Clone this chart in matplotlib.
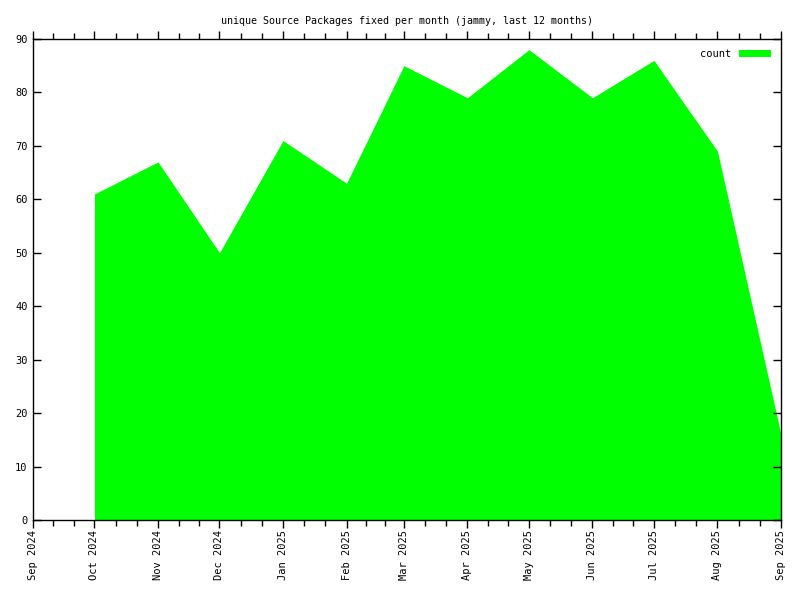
import datetime as dt
import matplotlib
matplotlib.use("Agg")
import matplotlib.pyplot as plt
import matplotlib.dates as mdates

months = ["2024-10", "2024-11", "2024-12", "2025-01", "2025-02", "2025-03",
          "2025-04", "2025-05", "2025-06", "2025-07", "2025-08", "2025-09"]
counts = [61, 67, 50, 71, 63, 85, 79, 88, 79, 86, 69, 16]
tick_months = ["2024-09", "2024-10", "2024-11", "2024-12", "2025-01", "2025-02", "2025-03",
               "2025-04", "2025-05", "2025-06", "2025-07", "2025-08", "2025-09"]

plt.rcParams['font.family'] = ['DejaVu Sans Mono']
plt.rcParams['font.size'] = 7.5

dates = [dt.datetime.strptime(m, "%Y-%m") for m in months]
tdates = [dt.datetime.strptime(m, "%Y-%m") for m in tick_months]

fig = plt.figure(figsize=(8, 6), dpi=100)
ax = fig.add_axes([33 / 800, 80 / 600, 748 / 800, 481 / 600])

ax.fill_between(dates, counts, 0, color="#00ff00", linewidth=0, label="count")

ax.set_xlim(tdates[0], tdates[-1])
ax.set_ylim(0, 90)
ax.set_yticks(range(0, 91, 10))

# major ticks on months, minor ticks at month thirds
tnum = mdates.date2num(tdates)
ax.set_xticks(tnum)
ax.set_xticklabels([d.strftime("%b %Y") for d in tdates], rotation=90, ha="center", va="top")
minors = []
for a, b in zip(tnum[:-1], tnum[1:]):
    minors += [a + (b - a) / 3, a + 2 * (b - a) / 3]
ax.set_xticks(minors, minor=True)

ax.tick_params(axis="x", which="both", direction="out", top=True, bottom=True, width=1)
ax.tick_params(axis="x", which="major", length=6, pad=1)
ax.tick_params(axis="x", which="minor", length=4)
ax.tick_params(axis="y", which="major", direction="in", left=True, right=True, length=6, width=1, pad=4)

for s in ax.spines.values():
    s.set_linewidth(1)
    s.set_color("black")

ax.set_title("unique Source Packages fixed per month (jammy, last 12 months)", fontsize=7.2, pad=11)

leg = ax.legend(loc="upper right", frameon=False, markerfirst=False, handlelength=3.0,
                handleheight=0.7, borderaxespad=0.6, fontsize=7.5)

fig.savefig("out.png", dpi=100)
